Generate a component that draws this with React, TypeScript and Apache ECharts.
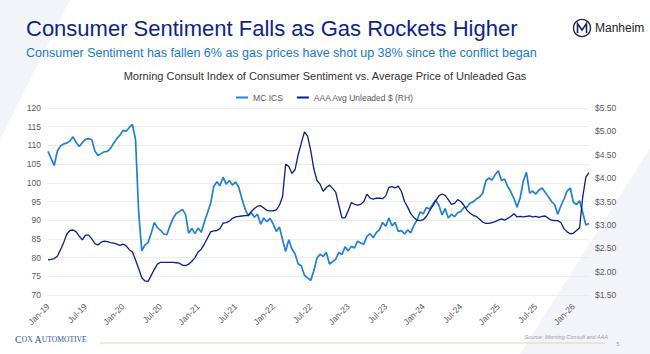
import React, { useEffect, useRef } from "react";
import * as echarts from "echarts";

// Semi-monthly periods (1st and 15th) from Jan 2019 to mid-Mar 2026
const MONTH_NAMES = ["Jan", "Feb", "Mar", "Apr", "May", "Jun", "Jul", "Aug", "Sep", "Oct", "Nov", "Dec"];
const periods: string[] = [];
for (let i = 0; i < 174; i++) {
  const m = Math.floor(i / 2);
  const y = 2019 + Math.floor(m / 12);
  const mo = (m % 12) + 1;
  periods.push(`${y}-${String(mo).padStart(2, "0")}-${i % 2 === 0 ? "01" : "15"}`);
}

// Morning Consult Index of Consumer Sentiment (left axis)
const mcIcs: number[] = [
  108.4, 106.5, 104.6, 108.5, 109.8, 110.4, 110.6, 111.2, 112.3, 110.8,
  109.7, 110.8, 111.6, 111.8, 111.5, 108.5, 107.3, 107.8, 108.3, 108.4,
  109.2, 110.6, 111.8, 112.8, 114.0, 113.8, 114.8, 115.6, 111.5, 92.0,
  81.8, 83.4, 84.0, 86.5, 89.4, 88.0, 87.3, 86.3, 86.1, 88.5,
  90.5, 91.8, 92.3, 92.9, 91.5, 86.5, 87.8, 86.4, 87.9, 86.8,
  89.5, 92.0, 94.5, 99.0, 100.3, 99.2, 101.5, 99.6, 100.6, 99.4,
  100.2, 98.8, 95.8, 93.0, 91.2, 92.0, 90.8, 91.6, 88.9, 90.6,
  89.6, 90.5, 89.0, 87.0, 88.2, 84.8, 81.6, 84.8, 82.3, 81.0,
  78.3, 77.8, 75.3, 74.6, 73.9, 76.5, 79.8, 80.9, 80.3, 81.4,
  78.3, 78.9, 79.6, 81.4, 80.8, 82.9, 81.8, 83.0, 82.6, 84.4,
  83.9, 83.6, 85.7, 86.4, 85.3, 86.7, 87.5, 89.4, 88.4, 90.6,
  88.5, 89.4, 87.0, 87.2, 86.3, 87.4, 86.6, 88.6, 90.0, 92.2,
  91.7, 93.4, 93.0, 94.2, 95.4, 94.0, 91.4, 93.1, 90.6, 91.6,
  90.9, 92.0, 92.3, 93.4, 93.5, 94.6, 94.9, 95.7, 96.2, 97.2,
  100.5, 101.3, 100.7, 102.2, 103.2, 100.6, 101.0, 99.0, 97.6, 95.8,
  93.5, 96.0, 100.5, 102.8, 97.3, 97.8, 97.0, 98.1, 98.6, 97.5,
  96.3, 95.0, 94.2, 91.6, 93.8, 95.6, 97.8, 98.6, 94.8, 94.2,
  95.2, 92.0, 88.7, 89.1,
];

// AAA average unleaded gas price, $ (right axis)
const gasPrice: number[] = [
  2.25, 2.26, 2.28, 2.33, 2.47, 2.62, 2.80, 2.88, 2.89, 2.85,
  2.76, 2.68, 2.78, 2.78, 2.70, 2.60, 2.57, 2.63, 2.65, 2.64,
  2.62, 2.61, 2.59, 2.56, 2.59, 2.55, 2.47, 2.42, 2.25, 2.06,
  1.87, 1.80, 1.79, 1.92, 2.05, 2.16, 2.20, 2.20, 2.20, 2.20,
  2.20, 2.19, 2.18, 2.14, 2.13, 2.16, 2.22, 2.30, 2.42, 2.48,
  2.59, 2.72, 2.85, 2.87, 2.88, 2.92, 3.04, 3.05, 3.08, 3.14,
  3.17, 3.18, 3.19, 3.20, 3.20, 3.28, 3.35, 3.40, 3.41, 3.36,
  3.31, 3.30, 3.30, 3.32, 3.42, 3.60, 4.30, 4.25, 4.10, 4.18,
  4.50, 4.75, 4.99, 4.90, 4.60, 4.20, 3.95, 3.87, 3.72, 3.80,
  3.85, 3.78, 3.70, 3.42, 3.15, 3.15, 3.30, 3.48, 3.44, 3.42,
  3.44, 3.50, 3.66, 3.57, 3.55, 3.57, 3.57, 3.56, 3.62, 3.80,
  3.82, 3.79, 3.83, 3.72, 3.50, 3.38, 3.24, 3.16, 3.10, 3.09,
  3.11, 3.18, 3.30, 3.40, 3.52, 3.62, 3.66, 3.63, 3.54, 3.44,
  3.46, 3.54, 3.50, 3.42, 3.31, 3.25, 3.20, 3.18, 3.12, 3.06,
  3.03, 3.03, 3.05, 3.07, 3.10, 3.13, 3.10, 3.14, 3.18, 3.24,
  3.17, 3.18, 3.17, 3.18, 3.19, 3.17, 3.18, 3.16, 3.18, 3.19,
  3.14, 3.10, 3.09, 3.09, 3.05, 2.92, 2.85, 2.81, 2.82, 2.88,
  2.94, 3.60, 4.02, 4.12,
];

const TITLE = "Consumer Sentiment Falls as Gas Rockets Higher";
const SUBTITLE = "Consumer Sentiment has fallen 6% as gas prices have shot up 38% since the conflict began";
const CHART_TITLE = "Morning Consult Index of Consumer Sentiment vs. Average Price of Unleaded Gas";
const SERIES_NAMES = ["MC ICS", "AAA Avg Unleaded $ (RH)"];
const SOURCE = "Source: Morning Consult and AAA";

const FONT = "'Liberation Sans', Arial, Helvetica, sans-serif";

export default function App() {
  const ref = useRef<HTMLDivElement>(null);
  useEffect(() => {
    if (!ref.current) return;
    const chart = echarts.init(ref.current, undefined, { renderer: "svg" });
    chart.setOption({
      animation: false,
      backgroundColor: "#ffffff",
      textStyle: { fontFamily: FONT },
      legend: {
        data: SERIES_NAMES,
        top: 88,
        left: "center",
        icon: "rect",
        itemWidth: 12,
        itemHeight: 2,
        itemGap: 14,
        textStyle: { fontSize: 8.5, color: "#595959", fontFamily: FONT },
      },
      grid: { left: 48, right: 61, top: 108, bottom: 59, containLabel: false },
      xAxis: {
        type: "category",
        data: periods,
        boundaryGap: false,
        axisLine: { show: false },
        axisTick: { show: false },
        splitLine: { show: false },
        axisLabel: {
          rotate: 45,
          margin: 10,
          fontSize: 8.5,
          color: "#595959",
          interval: (index: number) => index % 12 === 0,
          formatter: (v: string) => {
            const [y, m] = v.split("-");
            return MONTH_NAMES[Number(m) - 1] + "-" + y.slice(2);
          },
        },
      },
      yAxis: [
        {
          type: "value",
          min: 70,
          max: 120,
          interval: 5,
          axisLine: { show: false },
          axisTick: { show: false },
          axisLabel: { fontSize: 8.5, color: "#595959", margin: 7 },
          splitLine: { lineStyle: { color: "#ececec", width: 1 } },
        },
        {
          type: "value",
          min: 1.5,
          max: 5.5,
          interval: 0.5,
          axisLine: { show: false },
          axisTick: { show: false },
          axisLabel: {
            fontSize: 8.5,
            color: "#595959",
            margin: 6,
            formatter: (v: number) => "$" + v.toFixed(2),
          },
          splitLine: { show: false },
        },
      ],
      series: [
        {
          name: SERIES_NAMES[0],
          type: "line",
          yAxisIndex: 0,
          data: mcIcs,
          showSymbol: false,
          lineStyle: { color: "#1f80dc", width: 1.7 },
          itemStyle: { color: "#1f80dc" },
        },
        {
          name: SERIES_NAMES[1],
          type: "line",
          yAxisIndex: 1,
          data: gasPrice,
          showSymbol: false,
          lineStyle: { color: "#0c1f8f", width: 1.3 },
          itemStyle: { color: "#0c1f8f" },
        },
      ],
      graphic: [
        { type: "polygon", z: -10, silent: true, shape: { points: [[0, 0], [70, 0], [0, 140]] }, style: { fill: "#f2f4f9" } },
        { type: "polygon", z: -10, silent: true, shape: { points: [[650, 148], [650, 354], [520, 354]] }, style: { fill: "#f2f4f9" } },
        { type: "text", x: 26, y: 28, style: { text: TITLE, fontSize: 22, fill: "#0c2490", fontFamily: FONT, verticalAlign: "middle" } },
        { type: "text", x: 26, y: 53, style: { text: SUBTITLE, fontSize: 12.5, fill: "#1479d8", fontFamily: FONT, verticalAlign: "middle" } },
        { type: "text", x: 325, y: 76, style: { text: CHART_TITLE, fontSize: 11, fill: "#333333", fontFamily: FONT, align: "center", verticalAlign: "middle" } },
        { type: "circle", shape: { cx: 582, cy: 28, r: 8.5 }, style: { fill: "#ffffff", stroke: "#1b2a5e", lineWidth: 1.4 } },
        { type: "polyline", shape: { points: [[577.5, 33], [577.5, 23.5], [582, 30], [586.5, 23.5], [586.5, 33]] }, style: { fill: "none", stroke: "#1b2a5e", lineWidth: 1.6 } },
        { type: "text", x: 595, y: 28, style: { text: "Manheim", fontSize: 12, fill: "#222222", fontFamily: FONT, verticalAlign: "middle" } },
        {
          type: "text",
          x: 15,
          y: 344,
          style: {
            text: "{b|C}{s|OX }{b|A}{s|UTOMOTIVE}",
            verticalAlign: "bottom",
            fontFamily: FONT,
            rich: {
              b: { fontSize: 10, fill: "#2b5797", fontFamily: "'Liberation Serif', 'Times New Roman', serif" },
              s: { fontSize: 7.6, fill: "#2b5797", fontFamily: "'Liberation Serif', 'Times New Roman', serif" },
            },
          },
        },
        { type: "line", shape: { x1: 100, y1: 343, x2: 605, y2: 343 }, style: { stroke: "#f6cbb0", lineWidth: 1 } },
        { type: "text", x: 608, y: 337, style: { text: SOURCE, fontSize: 5.5, fill: "#9a9a9a", fontStyle: "italic", fontFamily: FONT, align: "right", verticalAlign: "middle" } },
        { type: "text", x: 618, y: 344, style: { text: "5", fontSize: 5.5, fill: "#9a9a9a", fontFamily: FONT, align: "center", verticalAlign: "middle" } },
      ],
    });
    return () => chart.dispose();
  }, []);
  return (
    <div
      ref={ref}
      style={{ position: "fixed", left: 0, top: 0, width: 650, height: 354, background: "#fff" }}
    />
  );
}
